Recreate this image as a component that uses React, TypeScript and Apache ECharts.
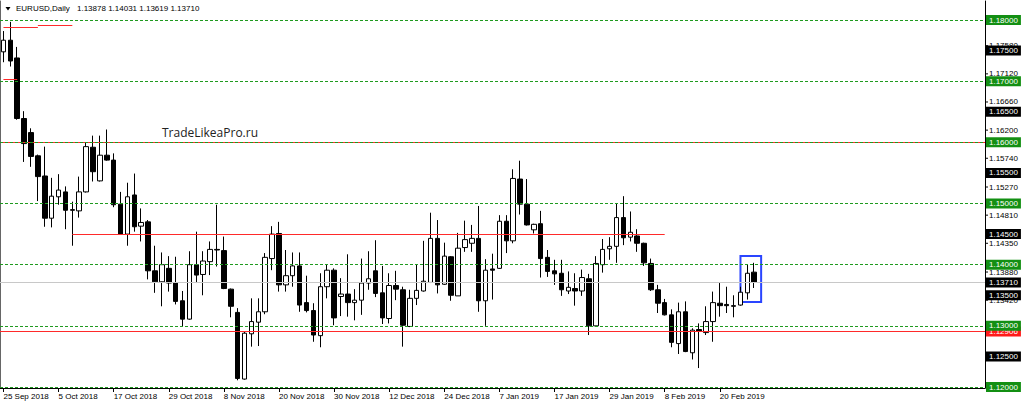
import React, { useEffect, useRef } from "react";
import * as echarts from "echarts";

// ---------- DATA ----------
const MONTHS: [string, number, number[]][] = [
  ["Sep", 2018, [25, 26, 27, 28]],
  ["Oct", 2018, [1, 2, 3, 4, 5, 8, 9, 10, 11, 12, 15, 16, 17, 18, 19, 22, 23, 24, 25, 26, 29, 30, 31]],
  ["Nov", 2018, [1, 2, 5, 6, 7, 8, 9, 12, 13, 14, 15, 16, 19, 20, 21, 22, 23, 26, 27, 28, 29, 30]],
  ["Dec", 2018, [3, 4, 5, 6, 7, 10, 11, 12, 13, 14, 17, 18, 19, 20, 21, 24, 26, 27, 28, 31]],
  ["Jan", 2019, [2, 3, 4, 7, 8, 9, 10, 11, 14, 15, 16, 17, 18, 21, 22, 23, 24, 25, 28, 29, 30, 31]],
  ["Feb", 2019, [1, 4, 5, 6, 7, 8, 11, 12, 13, 14, 15, 18, 19, 20, 21, 22, 25, 26, 27]],
];
const EMPTY_SLOTS = 33; // chart shift space on the right

const opens = [
  1.1748, 1.1767, 1.1738, 1.1639, 1.1616, 1.1578, 1.1545, 1.1476, 1.1511, 1.1519,
  1.1490, 1.1488, 1.1519, 1.1592, 1.1537, 1.1579, 1.1571, 1.1499, 1.1450, 1.1514,
  1.1463, 1.1470, 1.1390, 1.1372, 1.1394, 1.1370, 1.1341, 1.1311, 1.1400, 1.1384,
  1.1405, 1.1425, 1.1423, 1.1360, 1.1322, 1.1213, 1.1287, 1.1306, 1.1323, 1.1410,
  1.1451, 1.1367, 1.1382, 1.1398, 1.1338, 1.1325, 1.1284, 1.1364, 1.1391, 1.1348,
  1.1352, 1.1338, 1.1342, 1.1370, 1.1390, 1.1354, 1.1312, 1.1366, 1.1359, 1.1299,
  1.1345, 1.1357, 1.1371, 1.1443, 1.1368, 1.1413, 1.1349, 1.1428, 1.1435, 1.1443,
  1.1341, 1.1393, 1.1394, 1.1471, 1.1439, 1.1540, 1.1499, 1.1457, 1.1467, 1.1412,
  1.1390, 1.1386, 1.1357, 1.1361, 1.1357, 1.1377, 1.1300, 1.1400, 1.1426, 1.1430,
  1.1477, 1.1445, 1.1447, 1.1435, 1.1402, 1.1359, 1.1338, 1.1318, 1.1271, 1.1323,
  1.1256, 1.1294, 1.1289, 1.1307, 1.1337, 1.1335, 1.1333, 1.1334, 1.1354, 1.13878,
];
const highs = [
  1.1782, 1.1797, 1.1756, 1.1651, 1.1623, 1.1580, 1.1593, 1.1542, 1.1548, 1.1528,
  1.1503, 1.1544, 1.1600, 1.1611, 1.1611, 1.1621, 1.1582, 1.1519, 1.1534, 1.1549,
  1.1492, 1.1473, 1.1431, 1.1420, 1.1414, 1.1413, 1.1357, 1.1422, 1.1454, 1.1422,
  1.1438, 1.1498, 1.1446, 1.1361, 1.1329, 1.1291, 1.1345, 1.1345, 1.1419, 1.1463,
  1.1470, 1.1424, 1.1420, 1.1420, 1.1382, 1.1337, 1.1386, 1.1400, 1.1394, 1.1378,
  1.1417, 1.1360, 1.1410, 1.1422, 1.1440, 1.1398, 1.1386, 1.1390, 1.1364, 1.1359,
  1.1401, 1.1439, 1.1485, 1.1473, 1.1436, 1.1414, 1.1452, 1.1472, 1.1465, 1.1496,
  1.1409, 1.1418, 1.1481, 1.1481, 1.1556, 1.1570, 1.1540, 1.1467, 1.1488, 1.1424,
  1.1408, 1.1408, 1.1389, 1.1386, 1.1392, 1.1385, 1.1414, 1.1442, 1.1445, 1.1500,
  1.1512, 1.1487, 1.1458, 1.1436, 1.1410, 1.1367, 1.1344, 1.1327, 1.1338, 1.1340,
  1.1296, 1.1304, 1.1332, 1.1356, 1.1370, 1.1364, 1.1350, 1.1364, 1.1401, 1.14031,
];
const lows = [
  1.1731, 1.1724, 1.1637, 1.1568, 1.1560, 1.1504, 1.1462, 1.1461, 1.1498, 1.1458,
  1.1431, 1.1477, 1.1518, 1.1536, 1.1536, 1.1570, 1.1494, 1.1449, 1.1431, 1.1454,
  1.1438, 1.1376, 1.1354, 1.1332, 1.1356, 1.1335, 1.1299, 1.1310, 1.1370, 1.1350,
  1.1383, 1.1397, 1.1360, 1.1314, 1.1211, 1.1212, 1.1266, 1.1267, 1.1319, 1.1391,
  1.1356, 1.1356, 1.1364, 1.1323, 1.1322, 1.1274, 1.1265, 1.1345, 1.1301, 1.1316,
  1.1315, 1.1309, 1.1318, 1.1359, 1.1347, 1.1303, 1.1304, 1.1342, 1.1266, 1.1298,
  1.1334, 1.1356, 1.1370, 1.1353, 1.1367, 1.1341, 1.1349, 1.1421, 1.1421, 1.1323,
  1.1300, 1.1343, 1.1393, 1.1419, 1.1435, 1.1482, 1.1464, 1.1451, 1.1379, 1.1380,
  1.1367, 1.1349, 1.1352, 1.1333, 1.1349, 1.1285, 1.1300, 1.1387, 1.1408, 1.1403,
  1.1432, 1.1438, 1.1421, 1.1398, 1.1357, 1.1321, 1.1317, 1.1265, 1.1254, 1.1257,
  1.1245, 1.1231, 1.1285, 1.1274, 1.1315, 1.1321, 1.1314, 1.1333, 1.1343, 1.13619,
];
const closes = [
  1.1767, 1.1733, 1.1639, 1.1598, 1.1577, 1.1544, 1.1476, 1.1512, 1.1522, 1.1489,
  1.1489, 1.1519, 1.1593, 1.1552, 1.1579, 1.1571, 1.1498, 1.1450, 1.1511, 1.1462,
  1.1469, 1.1390, 1.1372, 1.1400, 1.1370, 1.1340, 1.1311, 1.1400, 1.1383, 1.1406,
  1.1425, 1.1424, 1.1361, 1.1332, 1.1214, 1.1288, 1.1307, 1.1323, 1.1412, 1.1450,
  1.1367, 1.1382, 1.1398, 1.1334, 1.1325, 1.1285, 1.1364, 1.1391, 1.1313, 1.1352,
  1.1338, 1.1342, 1.1370, 1.1377, 1.1353, 1.1313, 1.1366, 1.1360, 1.1301, 1.1345,
  1.1358, 1.1373, 1.1443, 1.1367, 1.1414, 1.1350, 1.1427, 1.1441, 1.1443, 1.1341,
  1.1391, 1.1391, 1.1471, 1.1439, 1.1541, 1.1499, 1.1465, 1.1466, 1.1410, 1.1389,
  1.1385, 1.1359, 1.1363, 1.1357, 1.1379, 1.1300, 1.1402, 1.1425, 1.1430, 1.1477,
  1.1444, 1.1453, 1.1435, 1.1403, 1.1359, 1.1337, 1.1318, 1.1273, 1.1323, 1.1258,
  1.1293, 1.1291, 1.1307, 1.1338, 1.1333, 1.1333, 1.1332, 1.1355, 1.1386, 1.13710,
];

const headerSymbol = "EURUSD,Daily";
const headerValues = "1.13878 1.14031 1.13619 1.13710";
const watermark = "TradeLikeaPro.ru";

const greenLevels = [1.18, 1.17, 1.16, 1.15, 1.14, 1.13, 1.12];
const blackLevels = [1.175, 1.165, 1.155, 1.145, 1.135, 1.125];
const plainTicks = [1.1758, 1.1712, 1.1666, 1.162, 1.1574, 1.1527, 1.1481, 1.1435, 1.1388, 1.1342];
const redFullLevels = [1.16, 1.12906];
const redLabelLevels = [1.12906];
const bidPrice = 1.1371;
// red segments: [startIndex, endIndex, price]
const redSegments: [number, number, number][] = [
  [0, 5, 1.1789],
  [5, 10, 1.17907],
  [0, 2, 1.17035],
  [10, 96, 1.1449],
];
// blue box around the last bars: [startIndex, endIndex, top, bottom]
const blueBox: [number, number, number, number] = [107, 110, 1.14142, 1.1339];

const Y_MIN = 1.11984;
const Y_MAX = 1.18311;

// ---------- BUILD ----------
const dates: string[] = [];
MONTHS.forEach(([m, y, days]) => days.forEach((d) => dates.push(`${d} ${m} ${y}`)));
const categories = dates.concat(Array.from({ length: EMPTY_SLOTS }, (_, i) => `slot${i}`));
const candleData = opens.map((o, i) => [o, closes[i], lows[i], highs[i]]);

const FONT = '"Liberation Sans", Arial, sans-serif';
const GREEN = "#1f9a1f";
const RED = "#ff2a2a";
const showTick = (i: number) => i < dates.length && i % 8 === 0;

const boxLabel = (v: number, bg: string, fg: string) => ({
  show: true,
  position: "end",
  distance: 1,
  formatter: v.toFixed(5),
  color: fg,
  backgroundColor: bg,
  padding: [1, 3, 0, 3],
  fontSize: 8,
  fontFamily: FONT,
  lineHeight: 9,
});

const tickLabel = (v: number) => ({
  show: true,
  position: "end",
  distance: 0,
  formatter: `{t|}{v|${v.toFixed(5)}}`,
  color: "#000",
  padding: 0,
  fontSize: 8,
  fontFamily: FONT,
  lineHeight: 9,
  rich: {
    t: { width: 3, height: 1, backgroundColor: "#000", verticalAlign: "middle" },
    v: { fontSize: 8, fontFamily: FONT, color: "#000", padding: [0, 0, 0, 1], lineHeight: 9 },
  },
});

const transparentLine = { color: "rgba(0,0,0,0)", width: 1 };

function buildOption(): any {
  const lineItems: any[] = [];
  redFullLevels.forEach((v) =>
    lineItems.push({ yAxis: v, lineStyle: { color: RED, type: "solid", width: 1 } })
  );
  greenLevels.forEach((v) =>
    lineItems.push({ yAxis: v, lineStyle: { color: GREEN, type: [3, 2], width: 1 } })
  );
  lineItems.push({ yAxis: bidPrice, lineStyle: { color: "#c8c8c8", type: "solid", width: 1 } });
  redSegments.forEach(([a, b, p]) =>
    lineItems.push([
      { coord: [a, p], lineStyle: { color: RED, type: "solid", width: 1 } },
      { coord: [b, p] },
    ])
  );

  const plainItems = plainTicks.map((v) => ({
    yAxis: v,
    lineStyle: transparentLine,
    label: tickLabel(v),
  }));

  const boxItems: any[] = [];
  blackLevels.forEach((v) =>
    boxItems.push({ yAxis: v, lineStyle: transparentLine, label: boxLabel(v, "#000", "#fff") })
  );
  redLabelLevels.forEach((v) =>
    boxItems.push({ yAxis: v, lineStyle: transparentLine, label: boxLabel(v, "#ff1a1a", "#fff") })
  );
  greenLevels.forEach((v) =>
    boxItems.push({ yAxis: v, lineStyle: transparentLine, label: boxLabel(v, "#138f13", "#fff") })
  );
  boxItems.push({ yAxis: bidPrice, lineStyle: transparentLine, label: boxLabel(bidPrice, "#000", "#fff") });

  const mk = (data: any[]) => ({
    symbol: ["none", "none"],
    silent: true,
    animation: false,
    precision: 5,
    data,
  });

  return {
    animation: false,
    backgroundColor: "#ffffff",
    grid: { left: 0, right: 39, top: 1, bottom: 19, containLabel: false },
    xAxis: {
      type: "category",
      data: categories,
      boundaryGap: true,
      axisLine: { show: true, lineStyle: { color: "#000", width: 1 } },
      axisTick: { show: true, interval: (i: number) => showTick(i), alignWithLabel: true, length: 4, lineStyle: { color: "#000" } },
      axisLabel: {
        show: true,
        interval: (i: number) => showTick(i),
        align: "left",
        margin: 4,
        fontSize: 8,
        color: "#000",
        fontFamily: FONT,
      },
      splitLine: { show: false },
    },
    yAxis: [
      {
        type: "value",
        position: "right",
        min: Y_MIN,
        max: Y_MAX,
        axisLine: { show: true, lineStyle: { color: "#000", width: 1 } },
        axisTick: { show: false },
        axisLabel: { show: false },
        splitLine: { show: false },
      },
      {
        type: "value",
        position: "left",
        min: Y_MIN,
        max: Y_MAX,
        axisLine: { show: true, onZero: false, lineStyle: { color: "#666", width: 1 } },
        axisTick: { show: false },
        axisLabel: { show: false },
        splitLine: { show: false },
      },
    ],
    series: [
      { type: "line", data: [], z: 1, silent: true, markLine: { ...mk(lineItems), label: { show: false } } },
      {
        type: "candlestick",
        data: candleData,
        z: 3,
        barWidth: 5,
        itemStyle: {
          color: "#ffffff",
          color0: "#000000",
          borderColor: "#000000",
          borderColor0: "#000000",
          borderColorDoji: "#000000",
          borderWidth: 1,
        },
        markArea: {
          silent: true,
          animation: false,
          precision: 5,
          itemStyle: { color: "rgba(0,0,0,0)", borderColor: "#2a45ff", borderWidth: 2 },
          data: [[{ coord: [blueBox[0], blueBox[2]] }, { coord: [blueBox[1], blueBox[3]] }]],
        },
      },
      { type: "line", data: [], z: 4, silent: true, markLine: mk(plainItems) },
      { type: "line", data: [], z: 5, silent: true, markLine: mk(boxItems) },
    ],
    graphic: [
      { type: "polygon", shape: { points: [[5.5, 7], [10.5, 7], [8, 10.5]] }, style: { fill: "#000" }, z: 10 },
      { type: "text", left: 16, top: 4, style: { text: headerSymbol, font: `8px ${FONT}`, fill: "#000" }, z: 10 },
      { type: "text", left: 77, top: 4, style: { text: headerValues, font: `8px ${FONT}`, fill: "#000" }, z: 10 },
      { type: "text", left: 162, top: 126, style: { text: watermark, font: `12px "Open Sans", sans-serif`, fill: "#222" }, z: 10 },
    ],
  };
}

export default function App() {
  const ref = useRef<HTMLDivElement>(null);
  useEffect(() => {
    if (!ref.current) return;
    const chart = echarts.init(ref.current, null, { renderer: "svg" });
    chart.setOption(buildOption());
    return () => chart.dispose();
  }, []);
  return (
    <div
      ref={ref}
      style={{ position: "fixed", left: 0, top: 0, width: 1024, height: 407, background: "#fff" }}
    />
  );
}
